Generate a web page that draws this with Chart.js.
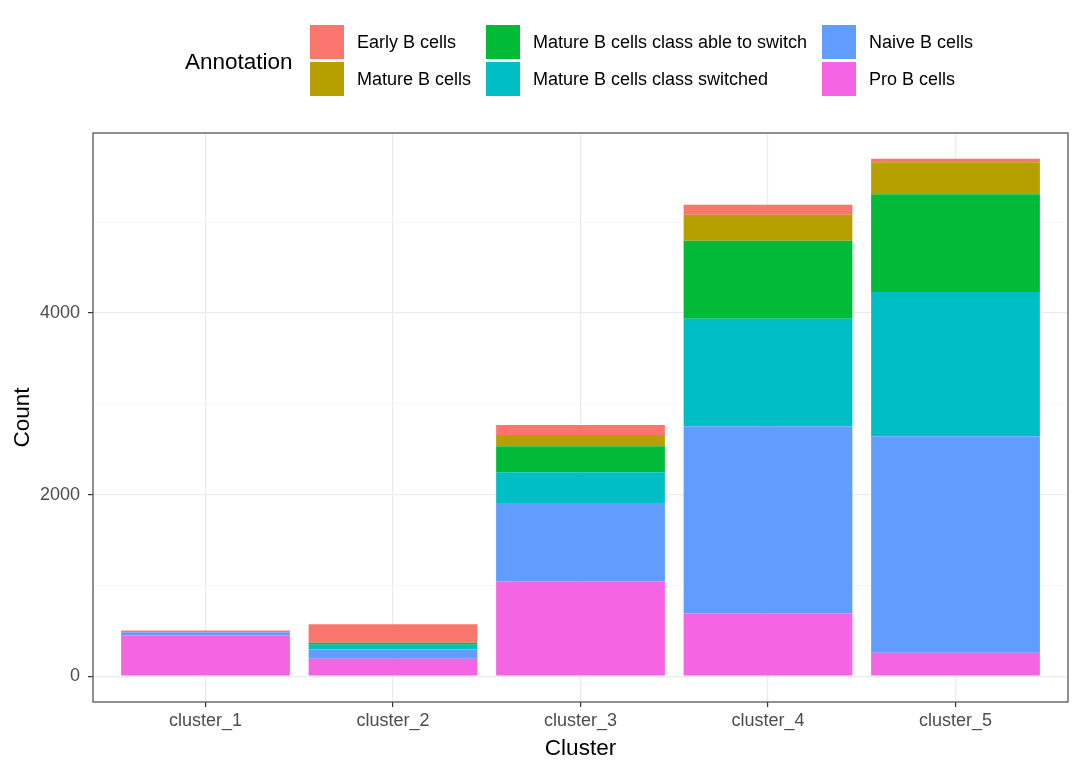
<!DOCTYPE html>
<html>
<head>
<meta charset="utf-8">
<script src="https://cdn.jsdelivr.net/npm/chart.js@4"></script>
<style>
  body { margin: 0; background: #fff; }
  #wrap { position: relative; width: 1080px; height: 772px; }
  #legend { position: absolute; left: 0; top: 0; font-family: "Liberation Sans", Arial, sans-serif; }
  .lg-title { position: absolute; left: 185px; top: 48px; font-size: 22.5px; line-height: 28px; color: #000; white-space: nowrap; }
  .lg-key { position: absolute; width: 34px; height: 34px; }
  .lg-label { position: absolute; font-size: 18px; line-height: 22px; color: #000; white-space: nowrap; }
</style>
</head>
<body>
<div id="wrap">
  <canvas id="myChart" width="1080" height="772"></canvas>
  <div id="legend"></div>
</div>
<script>
// categories
const clusters = ["cluster_1", "cluster_2", "cluster_3", "cluster_4", "cluster_5"];

// series
const earlyB = [20, 205, 110, 110, 37];
const matureB = [0, 0, 125, 286, 352];
const matureAbleSwitch = [0, 22, 286, 859, 1079];
const matureSwitched = [0, 51, 338, 1189, 1589];
const naiveB = [35, 103, 866, 2059, 2385];
const proB = [448, 191, 1042, 690, 257];

const yTicks = [0, 1000, 2000, 3000, 4000, 5000];
const yLabelled = [0, 2000, 4000];

// legend order as in the reference (column by column)
const legendItems = [
  { label: "Early B cells", data: earlyB, color: "#F8766D" },
  { label: "Mature B cells", data: matureB, color: "#B79F00" },
  { label: "Mature B cells class able to switch", data: matureAbleSwitch, color: "#00BA38" },
  { label: "Mature B cells class switched", data: matureSwitched, color: "#00BFC4" },
  { label: "Naive B cells", data: naiveB, color: "#619CFF" },
  { label: "Pro B cells", data: proB, color: "#F564E3" },
];

// build html legend
const legendEl = document.getElementById("legend");
legendEl.innerHTML = '<div class="lg-title">Annotation</div>';
const colX = [310, 486, 822];
const rowY = [25, 61.5];
legendItems.forEach((item, i) => {
  const col = Math.floor(i / 2);
  const row = i % 2;
  const key = document.createElement("div");
  key.className = "lg-key";
  key.style.left = colX[col] + "px";
  key.style.top = rowY[row] + "px";
  key.style.background = item.color;
  legendEl.appendChild(key);
  const lab = document.createElement("div");
  lab.className = "lg-label";
  lab.style.left = colX[col] + 47 + "px";
  lab.style.top = rowY[row] + 6 + "px";
  lab.textContent = item.label;
  legendEl.appendChild(lab);
});

// ggplot stacks the first level on top, so reverse for Chart.js
const datasets = legendItems.slice().reverse().map((item) => ({
  label: item.label,
  data: item.data.map((v, i) => ({ x: i + 1, y: v })),
  backgroundColor: item.color,
  borderWidth: 0,
  barPercentage: 0.9,
  categoryPercentage: 1.0,
}));

// panel border on top of everything
const panelBorder = {
  id: "panelBorder",
  afterDraw(chart) {
    const { ctx, chartArea } = chart;
    ctx.save();
    ctx.strokeStyle = "#555555";
    ctx.lineWidth = 1.3;
    ctx.strokeRect(chartArea.left, chartArea.top, chartArea.right - chartArea.left, chartArea.bottom - chartArea.top);
    ctx.restore();
  },
};

const tickFont = { family: '"Liberation Sans", Arial, sans-serif', size: 18 };
const titleFont = { family: '"Liberation Sans", Arial, sans-serif', size: 22.5 };

new Chart(document.getElementById("myChart"), {
  type: "bar",
  data: { datasets: datasets },
  options: {
    responsive: false,
    animation: false,
    layout: { padding: { top: 133, right: 12, left: 0, bottom: 0 } },
    plugins: {
      legend: { display: false },
      tooltip: { enabled: false },
    },
    scales: {
      x: {
        type: "linear",
        stacked: true,
        min: 0.4,
        max: 5.6,
        offset: false,
        afterBuildTicks: (axis) => {
          axis.ticks = clusters.map((_, i) => ({ value: i + 1 }));
        },
        afterFit: (axis) => {
          axis.height = 70;
        },
        ticks: {
          color: "#4d4d4d",
          font: tickFont,
          padding: 3,
          maxRotation: 0,
          callback: (v) => clusters[v - 1],
        },
        grid: {
          offset: false,
          color: "#ebebeb",
          lineWidth: 1.2,
          tickLength: 5,
          tickColor: "#333333",
        },
        border: { display: false },
        title: {
          display: true,
          text: "Cluster",
          color: "#000",
          font: titleFont,
          padding: { top: 0, bottom: 10 },
        },
      },
      y: {
        stacked: true,
        min: -285,
        max: 5984,
        afterBuildTicks: (axis) => {
          axis.ticks = yTicks.map((v) => ({ value: v }));
        },
        afterFit: (axis) => {
          axis.width = 93;
        },
        ticks: {
          color: "#4d4d4d",
          font: tickFont,
          padding: 8,
          callback: (v) => (yLabelled.includes(v) ? String(v) : ""),
        },
        grid: {
          color: (c) => (c.tick && yLabelled.includes(c.tick.value) ? "#ebebeb" : "#f3f3f3"),
          lineWidth: (c) => (c.tick && yLabelled.includes(c.tick.value) ? 1.2 : 0.7),
          tickLength: 5,
          tickColor: (c) => (c.tick && yLabelled.includes(c.tick.value) ? "#333333" : "rgba(0,0,0,0)"),
        },
        border: { display: false },
        title: {
          display: true,
          text: "Count",
          color: "#000",
          font: titleFont,
          padding: { top: 9, bottom: 0 },
        },
      },
    },
  },
  plugins: [panelBorder],
});
</script>
</body>
</html>
